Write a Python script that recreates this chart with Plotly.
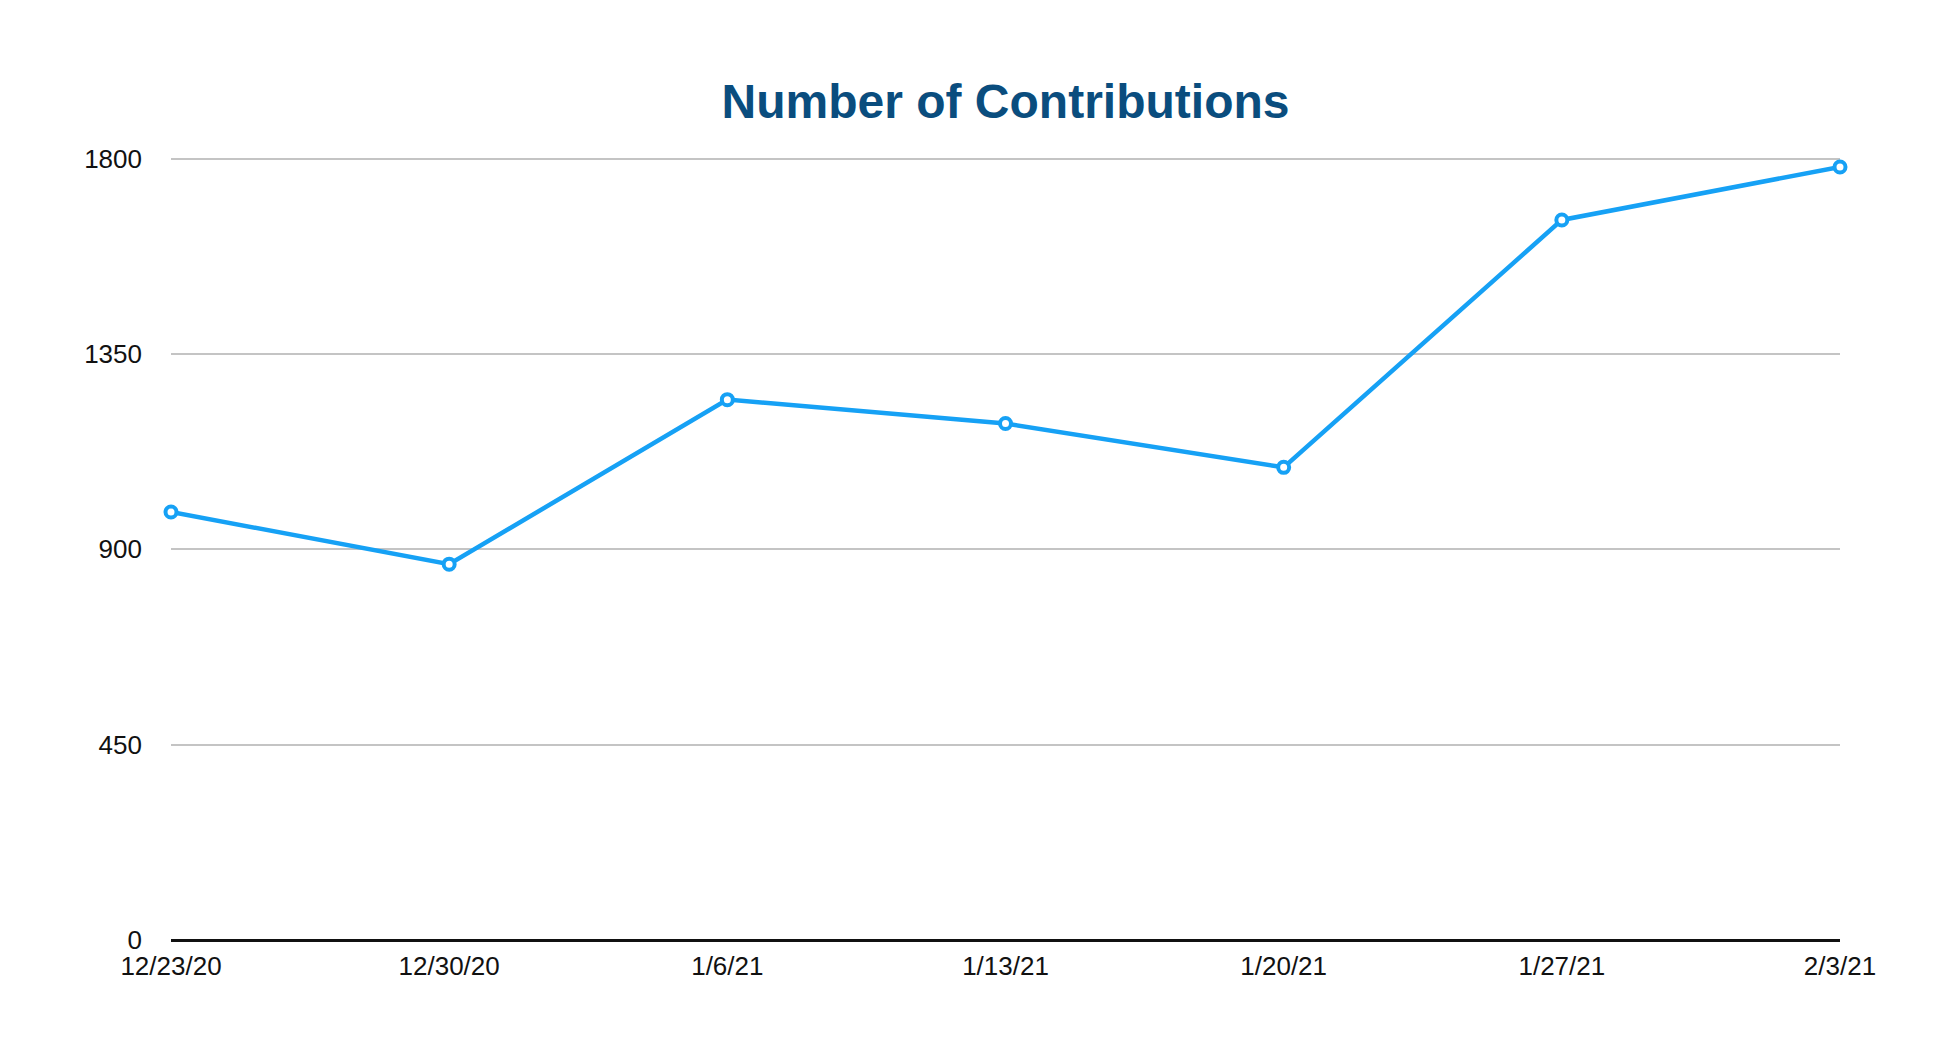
import plotly.graph_objects as go

dates = ["12/23/20", "12/30/20", "1/6/21", "1/13/21", "1/20/21", "1/27/21", "2/3/21"]
contributions = [986, 866, 1245, 1190, 1089, 1659, 1781]
y_ticks = [0, 450, 900, 1350, 1800]

x_idx = list(range(len(dates)))

fig = go.Figure()
fig.add_trace(go.Scatter(
    x=x_idx, y=contributions, mode="lines+markers",
    line=dict(color="#16A1F5", width=4.5),
    marker=dict(size=11, color="white", line=dict(color="#16A1F5", width=4)),
    cliponaxis=False, showlegend=False,
))

fig.update_layout(
    width=1960, height=1052,
    paper_bgcolor="white", plot_bgcolor="white",
    margin=dict(l=163, r=128, t=149, b=120),
    font=dict(family="Liberation Sans, Arial, Helvetica, sans-serif", size=26, color="#111111"),
    title=dict(
        text="<b>Number of Contributions</b>",
        x=0.5, xref="paper", xanchor="center", y=1 - 93 / 1052, yanchor="middle",
        font=dict(size=48, color="#0A4D7E", family="Liberation Sans, Arial, Helvetica, sans-serif"),
    ),
    xaxis=dict(
        range=[0, len(dates) - 1], tickmode="array", tickvals=x_idx, ticktext=dates,
        showgrid=False, zeroline=False, showline=False, ticks="",
        ticklabelstandoff=8,
    ),
    yaxis=dict(
        range=[0, 1804], tickmode="array", tickvals=y_ticks,
        showgrid=True, gridcolor="#C4C4C4", gridwidth=1.5,
        zeroline=True, zerolinecolor="#111111", zerolinewidth=3,
        showline=False, ticks="", ticklabelstandoff=28,
    ),
)

fig.write_html("out.html")
